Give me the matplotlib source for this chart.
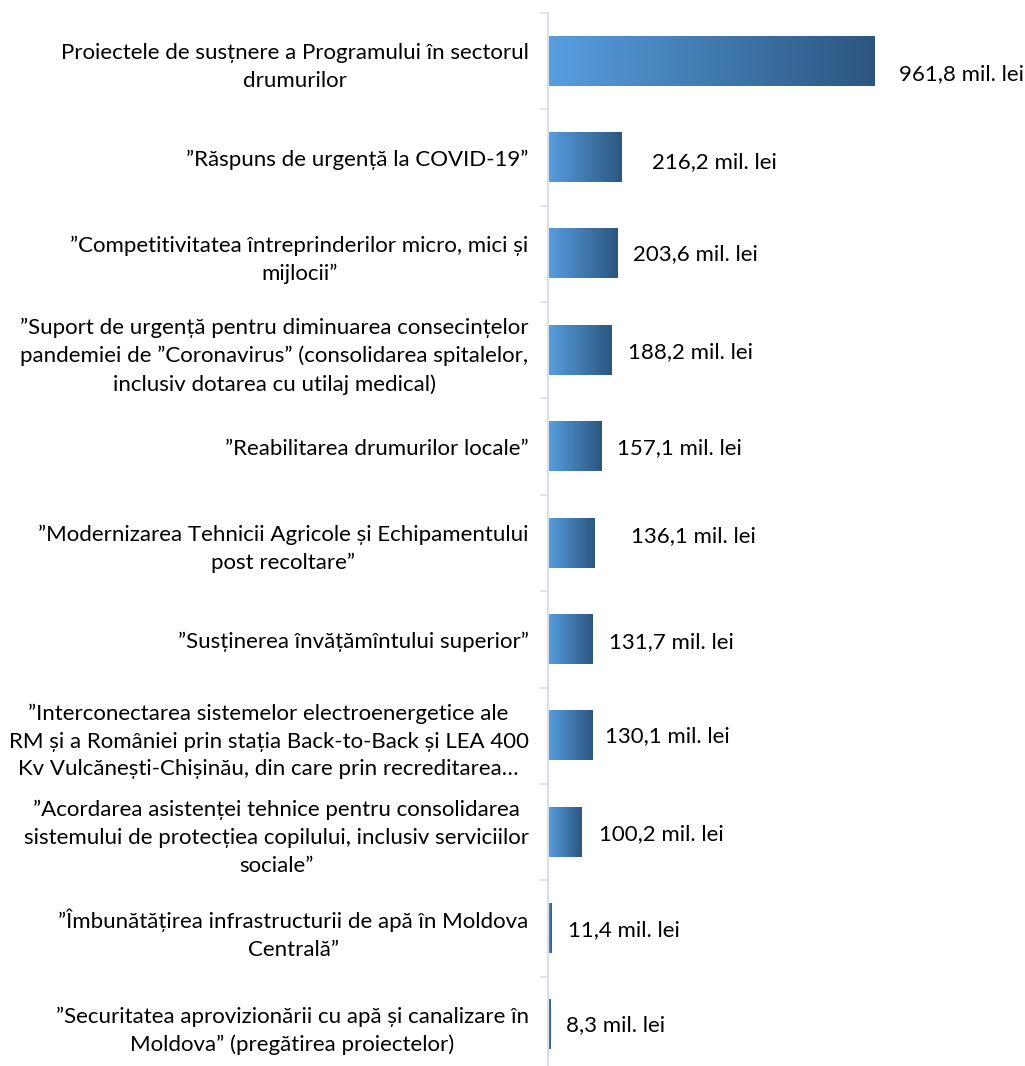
import numpy as np
import matplotlib.pyplot as plt
from matplotlib.colors import LinearSegmentedColormap

plt.rcParams['font.family'] = ['Lato', 'DejaVu Sans']

categories = [
    "Proiectele de susțnere a Programului în sectorul\ndrumurilor",
    "”Răspuns de urgență la COVID-19”",
    "”Competitivitatea întreprinderilor micro, mici și\nmijlocii”",
    "”Suport de urgență pentru diminuarea consecințelor\npandemiei de ”Coronavirus” (consolidarea spitalelor,\ninclusiv dotarea cu utilaj medical)",
    "”Reabilitarea drumurilor locale”",
    "”Modernizarea Tehnicii Agricole și Echipamentului\npost recoltare”",
    "”Susținerea învățămîntului superior”",
    "”Interconectarea sistemelor electroenergetice ale\nRM și a României prin stația Back-to-Back și LEA 400\nKv Vulcănești-Chișinău, din care prin recreditarea…",
    "”Acordarea asistenței tehnice pentru consolidarea\nsistemului de protecțiea copilului, inclusiv serviciilor\nsociale”",
    "”Îmbunătățirea infrastructurii de apă în Moldova\nCentrală”",
    "”Securitatea aprovizionării cu apă și canalizare în\nMoldova” (pregătirea proiectelor)",
]
values = [961.8, 216.2, 203.6, 188.2, 157.1, 136.1, 131.7, 130.1, 100.2, 11.4, 8.3]
value_labels = ["961,8 mil. lei", "216,2 mil. lei", "203,6 mil. lei", "188,2 mil. lei",
                "157,1 mil. lei", "136,1 mil. lei", "131,7 mil. lei", "130,1 mil. lei",
                "100,2 mil. lei", "11,4 mil. lei", "8,3 mil. lei"]

# label nudges in pixels (right, down) from the bar end, as placed in the original
label_dx = [25, 31, 16, 16, 16, 37, 16, 13, 17, 16, 15]
label_dy = [13, 4.5, 0, 2, 1, -6.5, 3, 0.5, 2, 1.5, 0.5]

W, H = 1025, 1066
fig = plt.figure(figsize=(W / 100, H / 100), dpi=100)
# axis spans x 548..1025 px, y 13..1073 px (bottom cut off)
ax = fig.add_axes([548 / W, (H - 1073) / H, (W - 548) / W, (1073 - 13) / H])

n = len(values)
y = np.arange(n)
cmap = LinearSegmentedColormap.from_list('grad', ['#579EDF', '#2C5680'])
grad = np.linspace(0, 1, 256).reshape(1, -1)

bars = ax.barh(y, values, height=0.51, color='none', edgecolor='none')
for b in bars:
    x0, y0 = b.get_x(), b.get_y()
    w, h = b.get_width(), b.get_height()
    ax.imshow(grad, cmap=cmap, aspect='auto', extent=[x0, x0 + w, y0 + h, y0],
              interpolation='bicubic', zorder=2)

pt = 72 / 100  # pixels -> points
for i, (v, lab) in enumerate(zip(values, value_labels)):
    ax.annotate(lab, (v, i), xytext=(label_dx[i] * pt, -label_dy[i] * pt),
                textcoords='offset points', ha='left', va='center',
                fontsize=16, color='#000000')

ax.set_xlim(0, 477 / 0.339)
ax.set_ylim(n - 0.5, -0.5)

ax.set_yticks(y)
ax.set_yticklabels(categories, fontsize=16, ha='right', multialignment='center',
                   linespacing=1.48)
ax.tick_params(axis='y', which='major', length=0, pad=14)
ax.set_yticks(np.arange(n + 1) - 0.5, minor=True)
ax.tick_params(axis='y', which='minor', length=6, width=1.2, color='#D9DDE6', direction='out')
ax.set_xticks([])

for s in ['top', 'right', 'bottom']:
    ax.spines[s].set_visible(False)
ax.spines['left'].set_color('#D9DDE6')
ax.spines['left'].set_linewidth(1.5)

fig.savefig('out.png', dpi=100)
